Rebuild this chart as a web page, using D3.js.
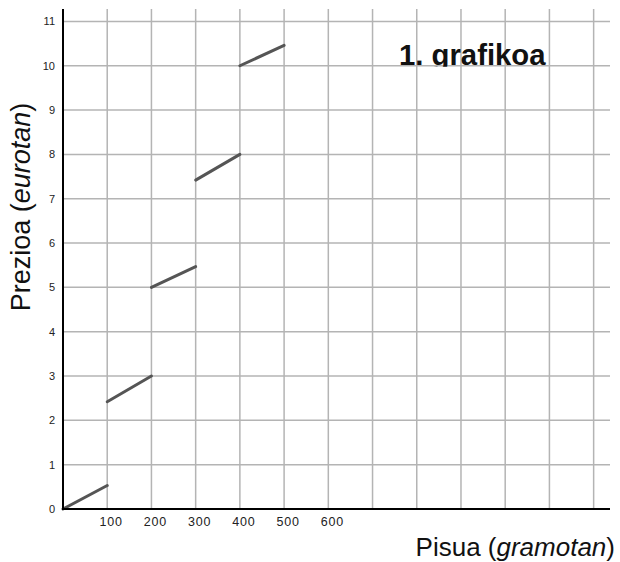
<!DOCTYPE html>
<html>
<head>
<meta charset="utf-8">
<script src="https://cdn.jsdelivr.net/npm/d3@7"></script>
<style>
  body { margin: 0; background: #fff; }
  text { font-family: "Liberation Sans", Arial, sans-serif; }
</style>
</head>
<body>
<script>
var width = 620,
    height = 562;

// pieces of the step price chart: start / end weight and price
var segStartX = [0, 100, 200, 300, 400],
    segEndX = [100, 200, 300, 400, 500],
    segStartY = [0, 2.42, 5.0, 7.42, 10.0],
    segEndY = [0.53, 3.0, 5.47, 8.0, 10.46];

var xTickLabels = [100, 200, 300, 400, 500, 600],
    yTickLabels = [0, 1, 2, 3, 4, 5, 6, 7, 8, 9, 10, 11],
    xGrid = d3.range(100, 1300, 100);

var svg = d3.select("body").append("svg")
    .attr("width", width)
    .attr("height", height);

var x = d3.scaleLinear().domain([0, 1237]).range([63, 610]),
    y = d3.scaleLinear().domain([0, 11.28]).range([509, 9]);

// grid
svg.append('g')
  .selectAll('line')
  .data(yTickLabels.slice(1))
  .enter().append('line')
  .attr('x1', x(0)).attr('x2', x.range()[1])
  .attr('y1', function(d) { return y(d); })
  .attr('y2', function(d) { return y(d); })
  .attr('stroke', '#b4b4b4')
  .attr('stroke-width', 1.5);

svg.append('g')
  .selectAll('line')
  .data(xGrid)
  .enter().append('line')
  .attr('x1', function(d) { return x(d); })
  .attr('x2', function(d) { return x(d); })
  .attr('y1', y.range()[1]).attr('y2', y(0))
  .attr('stroke', '#b4b4b4')
  .attr('stroke-width', 1.5);

// title, clipped at the gridline like the original
svg.append('clipPath').attr('id', 'tclip')
  .append('rect').attr('x', 380).attr('y', 30).attr('width', 200).attr('height', y(10) + 1 - 30);

svg.append('text')
  .attr('clip-path', 'url(#tclip)')
  .attr('x', 399)
  .attr('y', 65)
  .attr('font-size', 29.3)
  .attr('font-weight', 'bold')
  .attr('fill', '#111')
  .text('1. grafikoa');

// segments
var segs = segStartX.map(function(d, i) {
  return [[d, segStartY[i]], [segEndX[i], segEndY[i]]];
});

svg.append('g')
  .selectAll('path')
  .data(segs)
  .enter().append('path')
  .attr('d', d3.line().x(function(d) { return x(d[0]); }).y(function(d) { return y(d[1]); }))
  .attr('stroke', '#555')
  .attr('stroke-width', 3)
  .attr('stroke-linecap', 'round')
  .attr('fill', 'none');

// axes lines
svg.append('line')
  .attr('x1', x(0)).attr('x2', x(0))
  .attr('y1', y.range()[1]).attr('y2', y(0))
  .attr('stroke', '#000').attr('stroke-width', 2);
svg.append('line')
  .attr('x1', x(0) - 1).attr('x2', x.range()[1])
  .attr('y1', y(0)).attr('y2', y(0))
  .attr('stroke', '#000').attr('stroke-width', 2);

// tick labels
svg.append('g')
  .selectAll('text')
  .data(yTickLabels)
  .enter().append('text')
  .attr('x', 55)
  .attr('y', function(d) { return y(d) + 4; })
  .attr('text-anchor', 'end')
  .attr('font-size', 11)
  .attr('fill', '#222')
  .text(function(d) { return d; });

svg.append('g')
  .selectAll('text')
  .data(xTickLabels)
  .enter().append('text')
  .attr('x', function(d) { return x(d) + 4; })
  .attr('y', 526)
  .attr('text-anchor', 'middle')
  .attr('font-size', 12.5)
  .attr('letter-spacing', 0.8)
  .attr('fill', '#222')
  .text(function(d) { return d; });

// axis titles
var xt = svg.append('text')
  .attr('x', 615)
  .attr('y', 556)
  .attr('text-anchor', 'end')
  .attr('font-size', 26)
  .attr('fill', '#111');
xt.append('tspan').text('Pisua (');
xt.append('tspan').attr('font-style', 'italic').text('gramotan');
xt.append('tspan').text(')');

var yt = svg.append('text')
  .attr('transform', 'translate(30,207) rotate(-90)')
  .attr('text-anchor', 'middle')
  .attr('font-size', 27)
  .attr('fill', '#111');
yt.append('tspan').text('Prezioa (');
yt.append('tspan').attr('font-style', 'italic').text('eurotan');
yt.append('tspan').text(')');
</script>
</body>
</html>
